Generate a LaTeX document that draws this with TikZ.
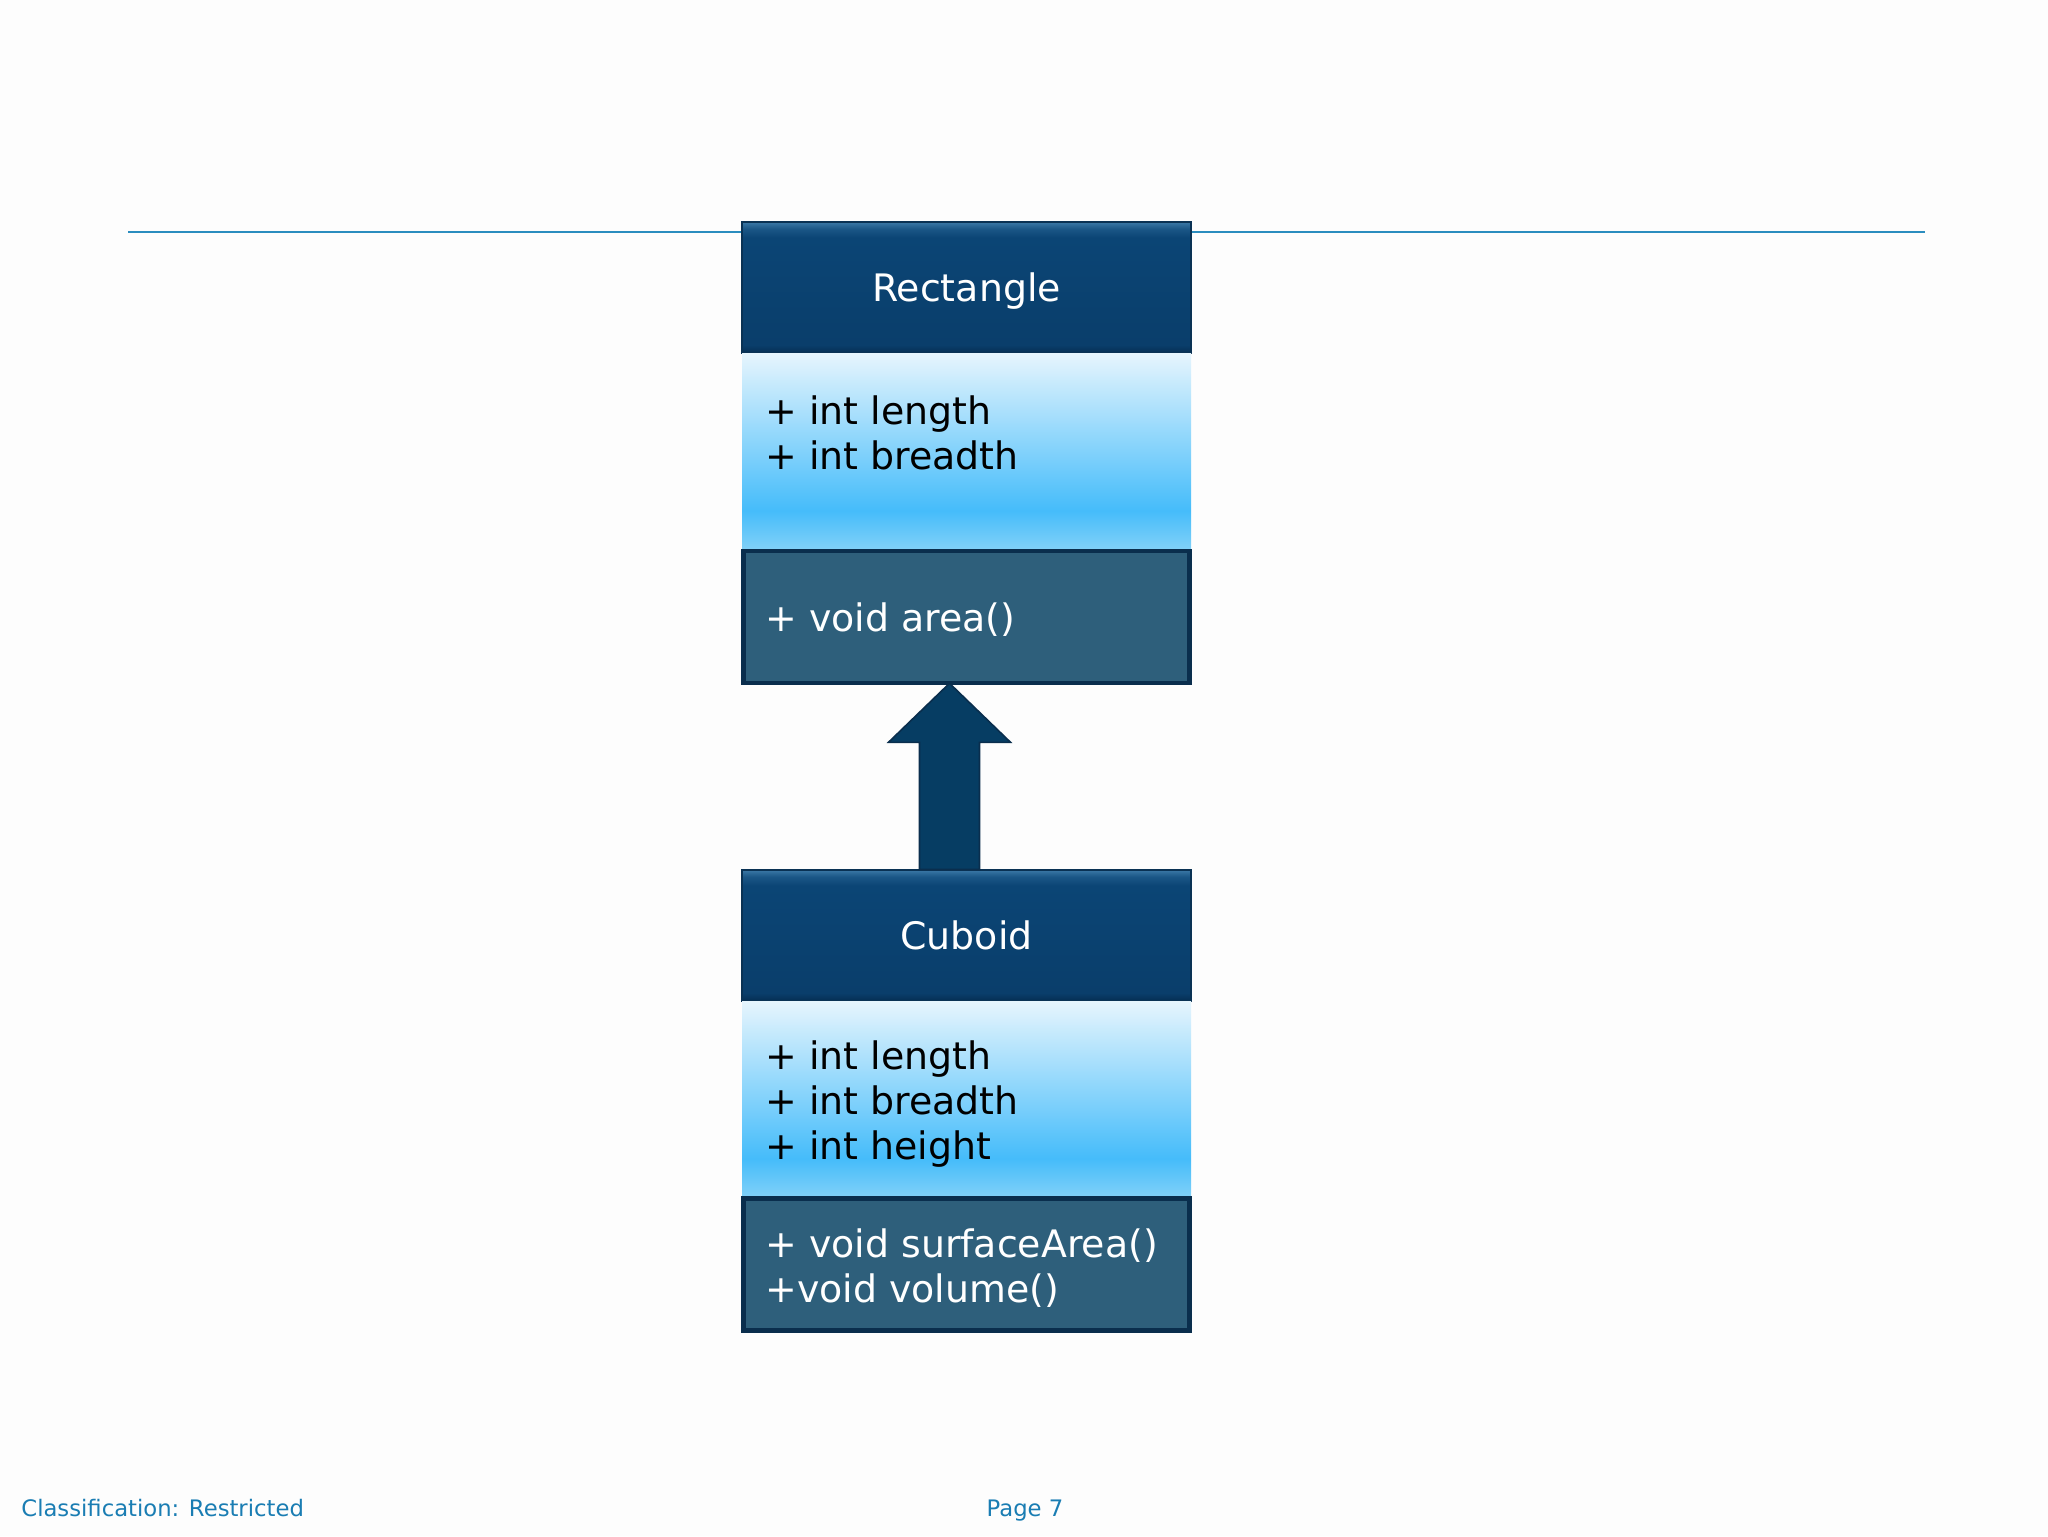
\documentclass[tikz,border=0pt]{standalone}
\usepackage{fontspec}
\setmainfont{DejaVu Sans}
\usetikzlibrary{calc}
\definecolor{bg}{HTML}{FDFDFD}
\definecolor{rule}{HTML}{2B8DBF}
\definecolor{hdA}{HTML}{052E52}
\definecolor{hdB}{HTML}{0A3E6B}
\definecolor{hdC}{HTML}{0B4575}
\definecolor{hdD}{HTML}{1B5787}
\definecolor{hdE}{HTML}{3B78A6}
\definecolor{hdline}{HTML}{0A3254}
\definecolor{att}{HTML}{E6F5FD}
\definecolor{atm}{HTML}{45BCFA}
\definecolor{atb}{HTML}{82D1F8}
\definecolor{methfill}{HTML}{2E5F7B}
\definecolor{methline}{HTML}{0A2E4D}
\definecolor{arrfill}{HTML}{063D63}
\definecolor{foot}{HTML}{1A7DB3}
\pgfdeclareverticalshading{attrshade}{100bp}{color(0bp)=(atb); color(25bp)=(atb); color(35bp)=(atm); color(75bp)=(att); color(100bp)=(att)}
\pgfdeclareverticalshading{hdrshade}{100bp}{color(0bp)=(hdA); color(25bp)=(hdA); color(28bp)=(hdB); color(69bp)=(hdC); color(72.5bp)=(hdD); color(75bp)=(hdE); color(100bp)=(hdE)}
\tikzset{
  hdr/.style={rectangle, minimum width=224.5bp, minimum height=65.5bp, inner sep=0pt,
    shading=hdrshade, draw=hdline, line width=0.6bp, text depth=0pt,
    text=white, font=\fontsize{19}{22.6}\selectfont},
  attrbox/.style={rectangle, minimum width=224.5bp, minimum height=98.5bp, inner sep=0pt, shading=attrshade},
  methbox/.style={rectangle, minimum width=223bp, minimum height=66bp, inner sep=0pt,
    fill=methfill, draw=methline, line width=2.3bp},
  attrtxt/.style={anchor=west, inner sep=0pt, align=left, text=black,
    font=\fontsize{19}{22.6}\selectfont},
  methtxt/.style={anchor=west, inner sep=0pt, align=left, text=white,
    font=\fontsize{19}{22.6}\selectfont},
  foottxt/.style={inner sep=0pt, text=foot, font=\fontsize{11.4}{13}\selectfont},
  inherit/.style={fill=arrfill, draw=methline, line width=0.8bp, line join=miter},
}
\begin{document}
\begin{tikzpicture}[x=0.5bp, y=-0.5bp]
\useasboundingbox (0,0) rectangle (2048,1536);
\fill[bg] (0,0) rectangle (2048,1536);
% top rule
\coordinate (ruleL) at (128,232);
\coordinate (ruleR) at (1925,232);
\draw[rule, line width=0.75bp] (ruleL) -- (ruleR);
% Rectangle class
\node[hdr] (r-head) at (966.5,287.5) {Rectangle};
\node[attrbox] (r-attr) at (966.5,451.5) {};
\node[methbox] (r-meth) at (966.5,617) {};
\node[attrtxt] (r-attr-t) at (765,433) {+ int length\\+ int breadth};
\node[methtxt] (r-meth-t) at (765,620) {+ void area()};
% Cuboid class
\node[hdr] (c-head) at (966.5,935.5) {Cuboid};
\node[attrbox] (c-attr) at (966.5,1099.5) {};
\node[methbox] (c-meth) at (966.5,1264.5) {};
\node[attrtxt] (c-attr-t) at (765,1104) {+ int length\\+ int breadth\\+ int height};
\node[methtxt] (c-meth-t) at (765,1268) {+ void surfaceArea()\\+void volume()};
% inheritance arrow (slightly left of the box centre)
\coordinate (tip) at ($(r-meth.south)+(-17,-2)$);
\coordinate (hb) at ($(r-meth.south)+(-17,57)$);
\coordinate (foot) at ($(c-head.north)+(-17,0)$);
\draw[inherit]
  ($(foot)+(-30,0)$) |- ($(hb)+(-30,0)$) -- ($(hb)+(-61,0)$) -- (tip)
  -- ($(hb)+(61,0)$) -- ($(hb)+(30,0)$) |- ($(foot)+(30,0)$) -- cycle;
% footer
\node[foottxt, anchor=base west] (cls) at (21,1516) {Classification: Restricted};
\node[foottxt, anchor=base] (pg) at (1025,1516) {Page 7};
\end{tikzpicture}
\end{document}
